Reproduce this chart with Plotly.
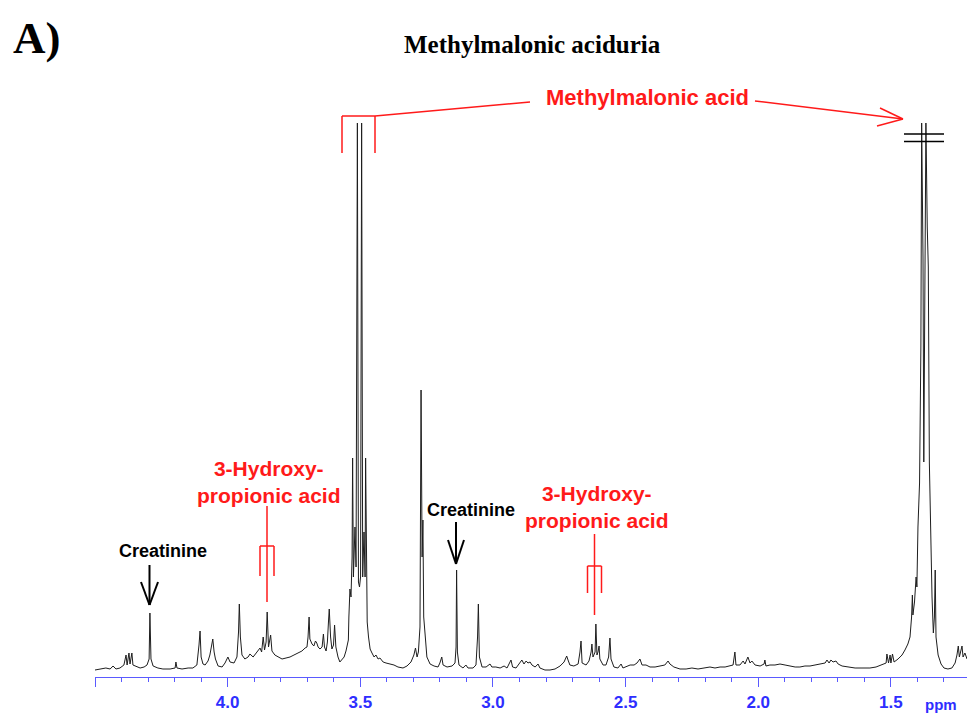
import plotly.graph_objects as go

# ---------------- data ----------------
ppm = [4.500, 4.481, 4.459, 4.443, 4.432, 4.421, 4.406, 4.391, 4.383, 4.379, 4.372, 4.368, 4.361, 4.357,
       4.345, 4.330, 4.315, 4.304, 4.296, 4.293, 4.289, 4.281, 4.263, 4.244, 4.217, 4.198, 4.195, 4.191,
       4.172, 4.149, 4.131, 4.116, 4.108, 4.104, 4.100, 4.093, 4.085, 4.074, 4.067, 4.061, 4.056, 4.051,
       4.046, 4.036, 4.021, 4.010, 3.999, 3.991, 3.976, 3.965, 3.959, 3.956, 3.952, 3.946, 3.935, 3.923,
       3.916, 3.904, 3.893, 3.886, 3.878, 3.872, 3.866, 3.861, 3.855, 3.851, 3.846, 3.838, 3.833, 3.822,
       3.810, 3.795, 3.780, 3.765, 3.750, 3.735, 3.720, 3.708, 3.701, 3.697, 3.693, 3.690, 3.682, 3.675,
       3.669, 3.664, 3.659, 3.652, 3.644, 3.639, 3.635, 3.629, 3.624, 3.620, 3.617, 3.612, 3.607, 3.601,
       3.597, 3.592, 3.584, 3.577, 3.569, 3.561, 3.554, 3.548, 3.545, 3.543, 3.539, 3.535, 3.531, 3.529,
       3.526, 3.520, 3.516, 3.511, 3.507, 3.503, 3.499, 3.495, 3.491, 3.486, 3.482, 3.480, 3.477, 3.474,
       3.469, 3.463, 3.456, 3.448, 3.441, 3.433, 3.426, 3.414, 3.403, 3.388, 3.373, 3.358, 3.339, 3.324,
       3.309, 3.298, 3.292, 3.286, 3.281, 3.275, 3.271, 3.267, 3.264, 3.261, 3.258, 3.254, 3.249, 3.237,
       3.222, 3.207, 3.200, 3.193, 3.188, 3.173, 3.154, 3.143, 3.139, 3.137, 3.134, 3.128, 3.113, 3.102,
       3.094, 3.075, 3.064, 3.058, 3.055, 3.051, 3.041, 3.026, 3.011, 3.004, 2.989, 2.973, 2.958, 2.947,
       2.932, 2.926, 2.913, 2.898, 2.891, 2.883, 2.875, 2.868, 2.860, 2.853, 2.841, 2.830, 2.823, 2.804,
       2.785, 2.766, 2.747, 2.732, 2.722, 2.717, 2.710, 2.695, 2.679, 2.672, 2.668, 2.664, 2.649, 2.638,
       2.630, 2.627, 2.623, 2.615, 2.612, 2.608, 2.604, 2.600, 2.597, 2.585, 2.574, 2.564, 2.559, 2.555,
       2.544, 2.529, 2.517, 2.510, 2.495, 2.483, 2.468, 2.457, 2.446, 2.438, 2.423, 2.408, 2.389, 2.370,
       2.352, 2.340, 2.333, 2.318, 2.295, 2.272, 2.250, 2.227, 2.204, 2.182, 2.163, 2.144, 2.125, 2.107,
       2.095, 2.088, 2.084, 2.069, 2.057, 2.050, 2.039, 2.031, 2.024, 2.012, 1.993, 1.978, 1.975, 1.971,
       1.956, 1.937, 1.918, 1.899, 1.880, 1.861, 1.843, 1.824, 1.805, 1.786, 1.767, 1.748, 1.741, 1.733,
       1.726, 1.718, 1.707, 1.699, 1.684, 1.662, 1.635, 1.609, 1.579, 1.556, 1.534, 1.518, 1.515, 1.509,
       1.503, 1.500, 1.494, 1.488, 1.473, 1.458, 1.447, 1.436, 1.428, 1.422, 1.419, 1.417, 1.411, 1.405,
       1.402, 1.398, 1.392, 1.387, 1.384, 1.379, 1.376, 1.371, 1.368, 1.363, 1.359, 1.355, 1.351, 1.345,
       1.340, 1.336, 1.333, 1.330, 1.322, 1.311, 1.300, 1.285, 1.270, 1.258, 1.251, 1.246, 1.242, 1.236,
       1.232, 1.228, 1.221, 1.213]

intensity = [7, 8, 9, 8, 11, 8, 9, 12, 22, 12, 24, 13, 24, 12,
             11, 9, 10, 12, 18, 64, 18, 11, 9, 8, 8, 9, 15, 9,
             8, 9, 9, 12, 32, 46, 20, 13, 12, 16, 22, 30, 38, 25,
             18, 11, 10, 14, 20, 15, 14, 20, 45, 73, 40, 22, 18, 20,
             23, 20, 24, 26, 29, 25, 40, 27, 35, 65, 30, 42, 26, 22,
             20, 18, 19, 20, 22, 24, 26, 29, 30, 40, 60, 38, 33, 31,
             36, 34, 30, 28, 30, 43, 30, 26, 35, 55, 68, 40, 28, 32,
             52, 30, 20, 15, 17, 20, 26, 33, 37, 60, 88, 80, 120, 219,
             100, 150, 110, 554, 95, 90, 100, 554, 100, 145, 100, 219, 90, 55,
             40, 28, 24, 20, 22, 18, 19, 15, 14, 13, 12, 10, 9, 11,
             15, 22, 29, 20, 25, 50, 287, 120, 157, 60, 45, 37, 20, 13,
             11, 10, 14, 20, 12, 10, 11, 14, 30, 107, 25, 12, 9, 12,
             9, 9, 12, 40, 73, 20, 10, 10, 13, 10, 10, 9, 11, 9,
             17, 10, 9, 14, 17, 13, 16, 14, 15, 12, 10, 13, 9, 7,
             7, 8, 11, 15, 21, 17, 12, 11, 13, 25, 36, 14, 12, 16,
             25, 33, 20, 25, 53, 22, 25, 31, 18, 12, 12, 20, 39, 18,
             10, 9, 13, 9, 11, 12, 12, 14, 18, 12, 12, 10, 10, 11,
             12, 16, 13, 10, 8, 8, 9, 8, 9, 10, 9, 10, 10, 11,
             12, 25, 12, 12, 16, 13, 20, 14, 16, 12, 11, 13, 17, 11,
             12, 12, 13, 12, 11, 10, 10, 11, 11, 12, 13, 14, 17, 14,
             17, 15, 16, 13, 11, 10, 9, 9, 9, 10, 12, 14, 23, 14,
             22, 14, 23, 15, 18, 22, 27, 33, 40, 60, 82, 62, 75, 100,
             90, 150, 194, 330, 554, 420, 215, 400, 554, 450, 410, 214, 140, 80,
             44, 60, 107, 40, 22, 13, 9, 8, 9, 14, 22, 31, 20, 26,
             31, 20, 24, 18]

tick_values = [4.5, 4.0, 3.5, 3.0, 2.5, 2.0, 1.5]
tick_labels = ["", "4.0", "3.5", "3.0", "2.5", "2.0", "1.5"]

# ---------------- layout helpers (pixel -> paper) ----------------
W, H = 967, 715
L, R, T, B = 95, 0, 100, 38
PW, PH = W - L - R, H - T - B


def px(x):
    return (x - L) / PW


def py(y):
    return (H - B - y) / PH


BLUE = "#2e2eff"
AXBLUE = "#5a5aff"
RED = "#ff1a1a"
SANS = "Liberation Sans, Arial, sans-serif"
SERIF = "Liberation Serif, Times New Roman, serif"

fig = go.Figure()
fig.add_trace(go.Scatter(x=ppm, y=intensity, mode="lines",
                         line=dict(color="#1e1e1e", width=1), hoverinfo="skip"))

annotations = []


def text(x, y, s, size, color, family=SANS):
    annotations.append(dict(x=px(x), y=py(y), xref="paper", yref="paper", text=s,
                            showarrow=False, xanchor="center", yanchor="middle",
                            font=dict(family=family, size=size, color=color), borderpad=0))


text(36, 38, "<b>A)</b>", 45, "black", SERIF)
text(532, 45, "<b>Methylmalonic aciduria</b>", 25, "black", SERIF)
text(647, 97, "<b>Methylmalonic acid</b>", 22, RED)
text(269, 482, "<b>3-Hydroxy-<br>propionic acid</b>", 21, RED)
text(597, 507, "<b>3-Hydroxy-<br>propionic acid</b>", 21, RED)
text(163, 551, "<b>Creatinine</b>", 18, "black")
text(471, 510, "<b>Creatinine</b>", 18, "black")
text(941, 704, "<b>ppm</b>", 15, BLUE)

shapes = []


def seg(x0, y0, x1, y1, color, width=1.5):
    shapes.append(dict(type="line", xref="paper", yref="paper",
                       x0=px(x0), y0=py(y0), x1=px(x1), y1=py(y1),
                       line=dict(color=color, width=width)))


# Methylmalonic acid bracket + connector + arrow
seg(342, 153, 342, 116, RED)
seg(342, 116, 375, 116, RED)
seg(375, 116, 375, 153, RED)
seg(375, 116, 530, 102, RED)
seg(755, 101, 903, 119, RED)
seg(903, 119, 880, 108, RED)
seg(903, 119, 877, 126, RED)

# 3-hydroxypropionic acid tridents
seg(267, 506, 267, 602, RED)
seg(260, 546, 274, 546, RED)
seg(260, 546, 260, 576, RED)
seg(274, 546, 274, 576, RED)

seg(594.5, 534, 594.5, 615, RED)
seg(587.5, 566, 601.5, 566, RED)
seg(587.5, 566, 587.5, 593, RED)
seg(601.5, 566, 601.5, 593, RED)

# Creatinine arrows
seg(149.5, 565, 149.5, 605, "black", 2)
seg(141, 582, 149.5, 605, "black", 2)
seg(158, 582, 149.5, 605, "black", 2)
seg(456, 522, 456, 564, "black", 2)
seg(448, 540, 456, 564, "black", 2)
seg(464, 540, 456, 564, "black", 2)

# break marks on the truncated 1.37 ppm doublet
seg(904, 134, 944, 134, "black", 1.5)
seg(904, 141.5, 944, 141.5, "black", 1.5)

fig.update_layout(
    width=W, height=H,
    margin=dict(l=L, r=R, t=T, b=B, pad=0),
    plot_bgcolor="white", paper_bgcolor="white",
    showlegend=False,
    annotations=annotations, shapes=shapes,
    xaxis=dict(range=[4.5, 4.5 - PW / 265.3], showline=True, linecolor=AXBLUE, linewidth=1,
               ticks="outside", ticklen=9, tickwidth=1, tickcolor=AXBLUE,
               tickvals=tick_values, ticktext=tick_labels, ticklabelstandoff=1,
               tickfont=dict(family=SANS, size=17, color=BLUE, weight="bold"),
               showgrid=False, zeroline=False,
               minor=dict(dtick=0.1, tick0=0, ticks="outside", ticklen=4,
                          tickcolor=AXBLUE, tickwidth=1, showgrid=False)),
    yaxis=dict(range=[0, PH], visible=False, showgrid=False, zeroline=False),
)

fig.write_html("out.html")
